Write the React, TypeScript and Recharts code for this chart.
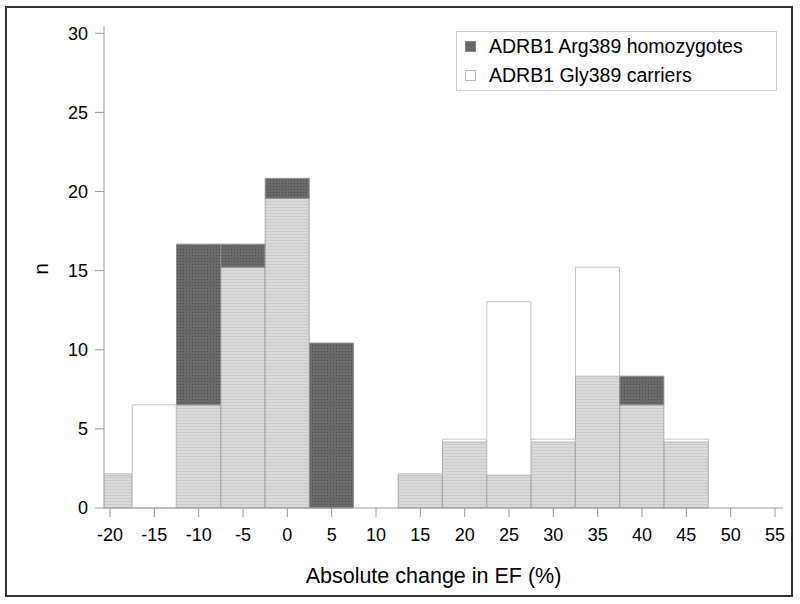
import React from 'react';
import { BarChart, Bar, XAxis, YAxis, Legend } from 'recharts';

// bin centres (%), bin width 5
const categories = [-20, -15, -10, -5, 0, 5, 10, 15, 20, 25, 30, 35, 40, 45, 50, 55];
// percentage of patients per bin
const argValues = [2.08, 0, 16.67, 16.67, 20.83, 10.42, 0, 2.08, 4.17, 2.08, 4.17, 8.33, 8.33, 4.17, 0, 0];
const glyValues = [2.17, 6.52, 6.52, 15.22, 19.57, 0, 0, 2.17, 4.35, 13.04, 4.35, 15.22, 6.52, 4.35, 0, 0];
const yTicks = [0, 5, 10, 15, 20, 25, 30];
const seriesNames = ['ADRB1 Arg389 homozygotes', 'ADRB1 Gly389 carriers'];

const X_DOMAIN: [number, number] = [-20.68, 55.9];
const Y_DOMAIN: [number, number] = [0, 30.46];
const binEdges = categories.map((c) => c + 2.5).filter((e) => e < X_DOMAIN[1]);

const FONT = '"Liberation Sans", Arial, sans-serif';

const App: React.FC = () => {
  // overlapping histograms: shared part, then whatever is left of each group
  const chartData = categories.map((bin, i) => {
    const shared = Math.min(argValues[i], glyValues[i]);
    return {
      bin,
      shared,
      argExtra: argValues[i] - shared,
      glyExtra: glyValues[i] - shared,
    };
  });

  const renderLegend = () => (
    <div
      style={{
        width: 319,
        height: 58,
        border: '1px solid #cfcfcf',
        background: '#fff',
        fontFamily: FONT,
        fontSize: 19.5,
        color: '#000',
      }}
    >
      {seriesNames.map((name, i) => (
        <div key={name} style={{ display: 'flex', alignItems: 'center', height: 29 }}>
          <div
            style={{
              width: 9,
              height: 9,
              marginLeft: 8,
              marginRight: 13,
              background: i === 0 ? '#666' : '#fff',
              border: i === 0 ? '1px solid #888' : '1px solid #bbb',
            }}
          />
          <span>{name}</span>
        </div>
      ))}
    </div>
  );

  return (
    <div style={{ position: 'absolute', left: 0, top: 0, width: 800, height: 604, background: '#fff' }}>
      <div
        style={{
          position: 'absolute',
          left: 5,
          top: 6,
          width: 784,
          height: 587,
          border: '2px solid #333',
        }}
      />
      <div style={{ position: 'absolute', left: 0, top: 0 }}>
        <BarChart
          width={800}
          height={604}
          data={chartData}
          margin={{ top: 26, right: 17, bottom: 36, left: 24 }}
          barCategoryGap={0}
          barGap={0}
          style={{ fontFamily: FONT }}
        >
          <defs>
            <pattern id="darkPat" width="3" height="3" patternUnits="userSpaceOnUse">
              <rect width="3" height="3" fill="#6a6a6a" />
              <rect width="1" height="1" fill="#4a4a4a" />
            </pattern>
            <pattern id="lightPat" width="3" height="3" patternUnits="userSpaceOnUse">
              <rect width="3" height="3" fill="#dadada" />
              <rect width="3" height="1" fill="#cbcbcb" />
            </pattern>
          </defs>

          <XAxis
            xAxisId="edges"
            type="number"
            dataKey="bin"
            domain={X_DOMAIN}
            allowDataOverflow
            ticks={binEdges}
            interval={0}
            height={0}
            tickSize={5}
            tickLine={{ stroke: '#999' }}
            axisLine={false}
            tick={() => <g />}
          />
          <XAxis
            type="number"
            dataKey="bin"
            domain={X_DOMAIN}
            allowDataOverflow
            ticks={categories}
            interval={0}
            height={60}
            tickSize={9}
            tickMargin={11}
            tickLine={{ stroke: '#999' }}
            axisLine={{ stroke: '#999' }}
            tick={{ fontSize: 18, fill: '#000', fontFamily: FONT }}
            label={{
              content: (props: any) => {
                const vb = props.viewBox || {};
                return (
                  <text
                    x={vb.x + vb.width / 2 - 10}
                    y={583}
                    textAnchor="middle"
                    fontSize={21.5}
                    fontFamily={FONT}
                    fill="#000"
                  >
                    Absolute change in EF (%)
                  </text>
                );
              },
            }}
          />
          <XAxis
            xAxisId="top"
            orientation="top"
            type="number"
            dataKey="bin"
            domain={X_DOMAIN}
            allowDataOverflow
            height={0}
            tick={false}
            tickLine={false}
            axisLine={{ stroke: '#999' }}
          />
          <YAxis
            type="number"
            domain={Y_DOMAIN}
            ticks={yTicks}
            interval={0}
            width={80}
            tickSize={9}
            tickMargin={7}
            tickLine={{ stroke: '#999' }}
            axisLine={{ stroke: '#999' }}
            tick={{ fontSize: 18, fill: '#000', fontFamily: FONT }}
            label={{
              content: (props: any) => {
                const vb = props.viewBox || {};
                const cx = vb.x + 16;
                const cy = vb.y + vb.height / 2 + 2;
                return (
                  <text
                    x={cx}
                    y={cy}
                    transform={`rotate(-90, ${cx}, ${cy})`}
                    textAnchor="middle"
                    dominantBaseline="central"
                    fontSize={21}
                    fontFamily={FONT}
                    fill="#000"
                  >
                    n
                  </text>
                );
              },
            }}
          />
          <YAxis
            yAxisId="right"
            orientation="right"
            type="number"
            domain={Y_DOMAIN}
            width={0}
            tick={false}
            tickLine={false}
            axisLine={{ stroke: '#999' }}
          />

          <Legend
            layout="horizontal"
            verticalAlign="middle"
            content={renderLegend}
            wrapperStyle={{ position: 'absolute', left: 456, top: 31, width: 321, height: 60 }}
          />

          <Bar dataKey="shared" stackId="h" fill="url(#lightPat)" stroke="#a9a9a9" strokeWidth={1} isAnimationActive={false} />
          <Bar dataKey="argExtra" stackId="h" fill="url(#darkPat)" stroke="#8c8c8c" strokeWidth={1} isAnimationActive={false} />
          <Bar dataKey="glyExtra" stackId="h" fill="#fff" stroke="#c4c4c4" strokeWidth={1} isAnimationActive={false} />
        </BarChart>
      </div>
    </div>
  );
};

export default App;
